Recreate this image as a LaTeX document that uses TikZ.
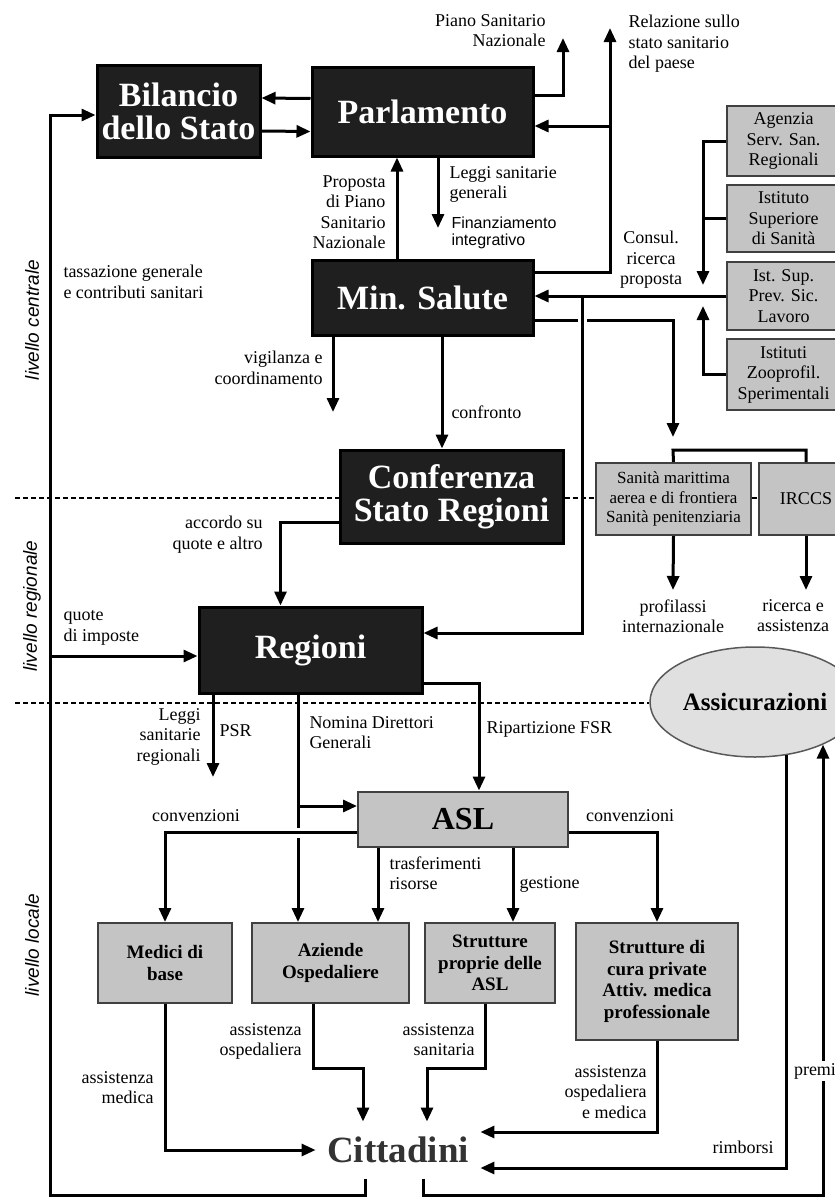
\documentclass[tikz,border=0pt]{standalone}
\usepackage{fontspec}
\setmainfont{Liberation Serif}
\setsansfont{Liberation Sans}
\usetikzlibrary{arrows.meta,shapes.geometric}
\begin{document}
\begin{tikzpicture}[x=1pt,y=-1pt,line width=3pt,>={Triangle[length=14pt,width=12pt]},
blackbox/.style={draw=black,fill=black!88,text=white,inner sep=0pt,align=center,font=\fontsize{34}{33}\selectfont\bfseries},
greybox/.style={draw=black!75,fill=black!23,line width=2pt,inner sep=0pt,align=center,font=\fontsize{18}{20.5}\selectfont},
unitbox/.style={greybox,font=\fontsize{19}{21.5}\selectfont\bfseries,minimum height=80pt},
lbl/.style={inner sep=0pt,font=\fontsize{18}{20.5}\selectfont},
levellbl/.style={rotate=90,inner sep=0pt,font=\fontsize{19}{22}\selectfont\sffamily\itshape},
levelline/.style={line width=1.5pt,dash pattern=on 5pt off 3pt}]
\useasboundingbox (0,0) rectangle (835,1197);
\draw (178.5,111) node[blackbox,minimum width=163pt,minimum height=92pt] (bil) {Bilancio\\dello Stato};
\draw (422.5,111.5) node[blackbox,minimum width=221pt,minimum height=89pt] (parl) {Parlamento};
\draw (422.5,297.5) node[blackbox,minimum width=221pt,minimum height=75pt] (min) {Min. Salute};
\draw (451.5,496.5) node[blackbox,minimum width=223pt,minimum height=93pt] (conf) {Conferenza\\Stato Regioni};
\draw (310.5,650) node[blackbox,minimum width=223pt,minimum height=86pt] (reg) {Regioni};
\draw (783.5,141) node[greybox,minimum width=113pt,minimum height=70pt] (assr) {Agenzia\\Serv. San.\\Regionali};
\draw (783.5,218.5) node[greybox,minimum width=113pt,minimum height=67pt] (iss) {Istituto\\Superiore\\di Sanità};
\draw (783.5,296) node[greybox,minimum width=113pt,minimum height=68pt] (ispesl) {Ist. Sup.\\Prev. Sic.\\Lavoro};
\draw (783.5,374.5) node[greybox,minimum width=113pt,minimum height=71pt] (izs) {Istituti\\Zooprofil.\\Sperimentali};
\draw (673.5,499) node[greybox,minimum width=155pt,minimum height=72pt,font=\fontsize{17}{19.5}\selectfont] (usmaf) {Sanità marittima\\aerea e di frontiera\\Sanità penitenziaria};
\draw (806,499) node[greybox,minimum width=94pt,minimum height=72pt] (irccs) {IRCCS};
\draw (755,702) node[ellipse,draw=black!65,fill=black!12,line width=1.5pt,minimum width=210pt,minimum height=110pt,inner sep=0pt,font=\fontsize{25}{25}\selectfont\bfseries] (assic) {Assicurazioni};
\draw (463,819) node[greybox,minimum width=210pt,minimum height=55pt,font=\fontsize{32}{32}\selectfont\bfseries] (asl) {ASL};
\draw (165,963) node[unitbox,minimum width=134pt] (mmg) {Medici di\\base};
\draw (330.5,963) node[unitbox,minimum width=157pt] (ao) {Aziende\\Ospedaliere};
\draw (490,963) node[unitbox,minimum width=130pt] (sasl) {Strutture\\proprie delle\\ASL};
\draw (657,981.5) node[unitbox,minimum width=162pt,minimum height=117pt] (spriv) {Strutture di\\cura private\\Attiv. medica\\professionale};
\draw (398,1150) node[inner xsep=10pt,inner ysep=0pt,minimum height=54pt,text=black!80,font=\fontsize{37}{37}\selectfont\bfseries] (citt) {Cittadini};
\coordinate (psn) at (563,38);
\coordinate (rsp) at (610,28);
\coordinate (rj) at (610,126);
\coordinate (lsg) at (438,228);
\coordinate (vig) at (333,412);
\coordinate (mr) at (582,296);
\coordinate (sarr) at (673,437);
\coordinate (sj) at (673,450);
\coordinate (cup) at (703,285);
\coordinate (cdn) at (703,306);
\coordinate (ric) at (806,590);
\coordinate (lsr) at (213,777);
\coordinate (nd) at (298,806);
\coordinate (lb) at (50,1195);
\coordinate (qi) at (50,656);
\coordinate (pb) at (823,1195);
\coordinate (dc) at (15,498);
\coordinate (dr) at (15,703);
\draw[->] ([yshift=13pt]parl.west) -- ([yshift=13pt]bil.east);
\draw[->] ([yshift=-20pt]bil.east) -- ([yshift=-20pt]parl.west);
\draw[->] ([yshift=16pt]parl.east) -| (psn);
\draw[->] ([yshift=25.5pt]min.east) -| (rsp);
\draw[->] (rj) -- (rj -| parl.east);
\draw[->] (lsg |- parl.south) -- (lsg);
\draw[->] ([xshift=-25.5pt]min.north) -- ([xshift=-25.5pt]parl.south);
\draw[->] (vig |- min.south) -- (vig);
\draw[->] ([xshift=19.5pt]min.south) -- ([xshift=-9.5pt]conf.north);
\draw[->] ([yshift=-26pt]conf.west) -| ([xshift=-30pt]reg.north);
\draw[->] (ispesl.west) -- (ispesl.west -| min.east);
\draw[->] ([yshift=-22.5pt]min.east) -| (sarr);
\draw[->,preaction={draw=white,line width=9pt,shorten <=6pt,-}] (mr) |- ([yshift=17pt]reg.east);
\draw (usmaf.north) -- (sj) -| (irccs.north);
\draw[->] (assr.west) -| (cup);
\draw (iss.west) -- (iss.west -| cup);
\draw[->] (izs.west) -| (cdn);
\draw[levelline] (dc) -- (dc -| conf.west);
\draw[levelline] (conf.east |- dc) -- (dc -| usmaf.west);
\draw[levelline] (usmaf.east |- dc) -- (dc -| irccs.west);
\draw[levelline] (dr) -- (dr -| assic.west);
\draw[->] (lsr |- reg.south) -- (lsr);
\draw[->] (nd |- reg.south) -- (nd |- ao.north);
\draw[->] (nd) -- (nd -| asl.west);
\draw[->] ([yshift=-33pt]reg.east) -| ([xshift=16pt]asl.north);
\draw[->,preaction={draw=white,line width=10pt,shorten <=2pt,-}] ([yshift=-13.5pt]asl.west) -| (mmg.north);
\draw[->] ([yshift=-13.5pt]asl.east) -| (spriv.north);
\draw[->] ([xshift=-85pt]asl.south) -- ([xshift=47.5pt]ao.north);
\draw[->] ([xshift=50pt]asl.south) -- ([xshift=23pt]sasl.north);
\draw[->] (mmg.south) |- (citt.west);
\draw[->] ([xshift=-17.5pt]ao.south) -- ++(0,64) -| ([xshift=-35pt]citt.north);
\draw[->] ([xshift=-5pt]sasl.south) -- ++(0,64) -| ([xshift=29pt]citt.north);
\draw[->] (spriv.south) |- ([yshift=18pt]citt.east);
\draw[->] (assic.-59) |- ([yshift=-18pt]citt.east);
\draw[->] ([xshift=25pt]citt.south) |- (pb) -- (pb |- assic.-32);
\draw[->] ([xshift=-33pt]citt.south) |- (lb) |- ([yshift=-4pt]bil.west);
\draw[->] (qi) -- (qi -| reg.west);
\draw (547,13) node[lbl,anchor=north east,align=right] (lpsn) {Piano Sanitario\\Nazionale};
\draw (627,14) node[lbl,anchor=north west,align=left] (lrsp) {Relazione sullo\\stato sanitario\\del paese};
\draw (448,165) node[lbl,anchor=north west,align=left] (llsg) {Leggi sanitarie\\generali};
\draw (450,215) node[lbl,anchor=north west,align=left,font=\sffamily\fontsize{16}{17}\selectfont] (lfin) {Finanziamento\\integrativo};
\draw (387,174) node[lbl,anchor=north east,align=right] (lprop) {Proposta\\di Piano\\Sanitario\\Nazionale};
\draw (62,264) node[lbl,anchor=north west,align=left] (ltax) {tassazione generale\\e contributi sanitari};
\draw (324,350) node[lbl,anchor=north east,align=right] (lvig) {vigilanza e\\coordinamento};
\draw (450,412) node[lbl,anchor=west] (lconf) {confronto};
\draw (651,230) node[lbl,anchor=north,align=center] (lcons) {Consul.\\ricerca\\proposta};
\draw (264,515) node[lbl,anchor=north east,align=right] (lacc) {accordo su\\quote e altro};
\draw (673,598) node[lbl,anchor=north,align=center] (lprof) {profilassi\\internazionale};
\draw (793,598) node[lbl,anchor=north,align=center] (lric) {ricerca e\\assistenza};
\draw[->] (usmaf.south) -- ([yshift=8pt]lprof.north);
\draw[->] (irccs.south) -- (ric);
\draw (62,609) node[lbl,anchor=north west,align=left] (lqi) {quote\\di imposte};
\draw (202,707) node[lbl,anchor=north east,align=right] (llsr) {Leggi\\sanitarie\\regionali};
\draw (218,731) node[lbl,anchor=west] (lpsr) {PSR};
\draw (308,715) node[lbl,anchor=north west,align=left] (lnom) {Nomina Direttori\\Generali};
\draw (485,729) node[lbl,anchor=west] (lfsr) {Ripartizione FSR};
\draw (196,816) node[lbl] (lconvl) {convenzioni};
\draw (630,816) node[lbl] (lconvr) {convenzioni};
\draw (388,855) node[lbl,anchor=north west,align=left] (ltras) {trasferimenti\\risorse};
\draw (518,884) node[lbl,anchor=west] (lges) {gestione};
\draw (155,1070) node[lbl,anchor=north east,align=right] (lam) {assistenza\\medica};
\draw (303,1022) node[lbl,anchor=north east,align=right] (lao) {assistenza\\ospedaliera};
\draw (476,1022) node[lbl,anchor=north east,align=right] (las) {assistenza\\sanitaria};
\draw (648,1064) node[lbl,anchor=north east,align=right] (laom) {assistenza\\ospedaliera\\e medica};
\draw (775,1147) node[lbl,anchor=east] (lrimb) {rimborsi};
\draw (792,1071) node[lbl,anchor=west,fill=white,inner xsep=0.5pt,inner ysep=2pt] (lpremi) {premi};
\draw (32,320) node[levellbl] (lvc) {livello centrale};
\draw (32,606) node[levellbl] (lvr) {livello regionale};
\draw (32,945) node[levellbl] (lvl) {livello locale};
\end{tikzpicture}
\end{document}
